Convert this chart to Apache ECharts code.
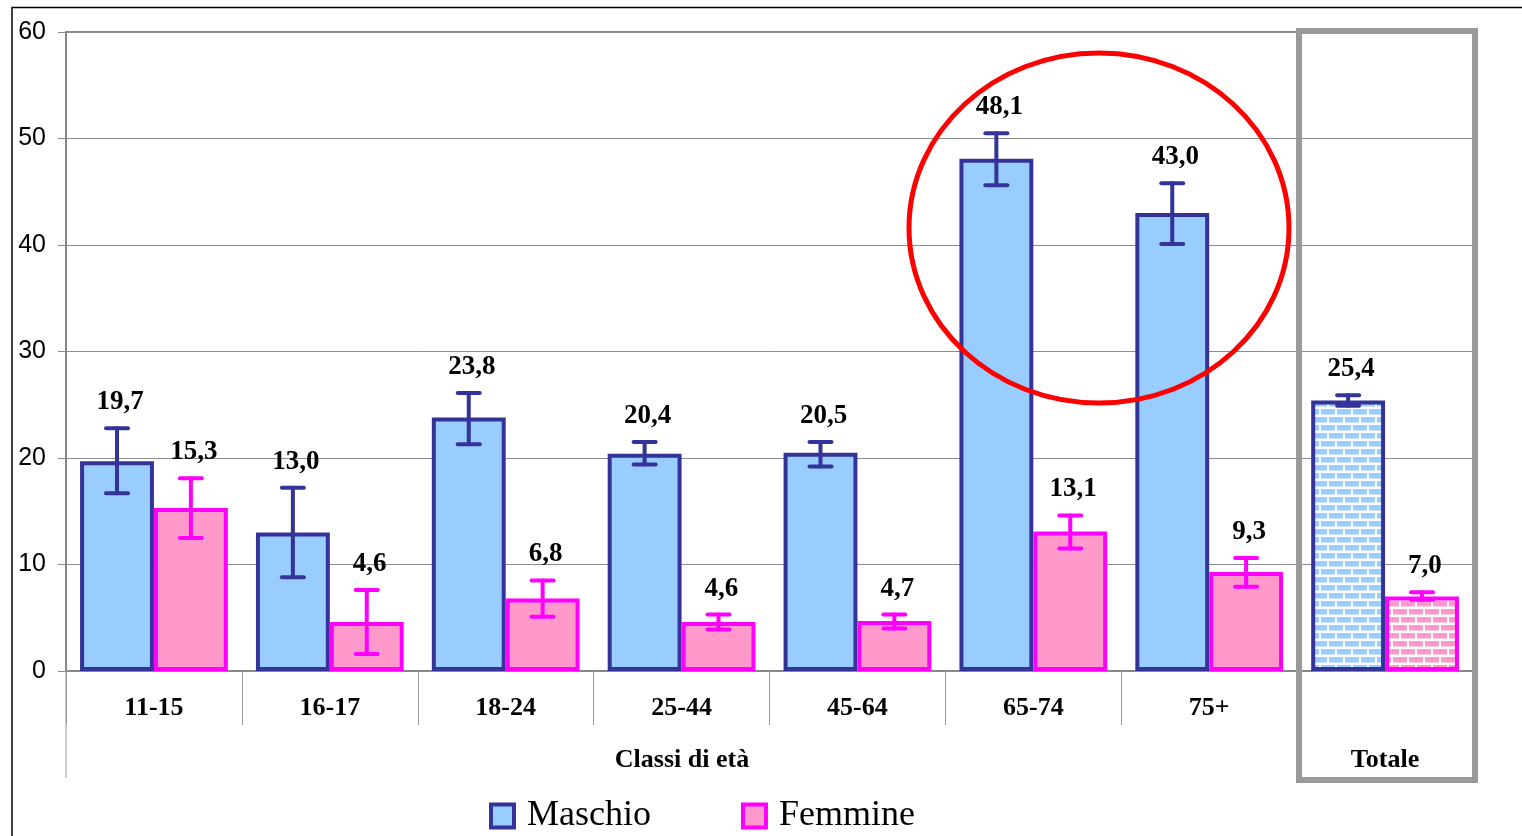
<!DOCTYPE html>
<html>
<head>
<meta charset="utf-8">
<script src="https://cdn.jsdelivr.net/npm/echarts@6/dist/echarts.min.js"></script>
<style>
html,body{margin:0;padding:0;background:#fff;}
#c{width:1522px;height:836px;}
</style>
</head>
<body>
<div id="c"></div>
<script>
// ---- data ----
const categories = ['11-15','16-17','18-24','25-44','45-64','65-74','75+','Totale'];
const maschio     = [19.7, 13.0, 23.8, 20.4, 20.5, 48.1, 43.0, 25.4];
const maschioLow  = [16.7,  8.8, 21.3, 19.4, 19.2, 45.6, 40.1, 24.9];
const maschioHigh = [22.8, 17.2, 26.1, 21.5, 21.5, 50.5, 45.8, 25.9];
const femmine     = [15.3,  4.6,  6.8,  4.6,  4.7, 13.1,  9.3,  7.0];
const femmineLow  = [12.5,  1.6,  5.1,  3.9,  4.0, 11.5,  7.9,  6.7];
const femmineHigh = [18.1,  7.6,  8.5,  5.3,  5.3, 14.6, 10.6,  7.4];
const yTicks = [0, 10, 20, 30, 40, 50, 60];
const groupLabel = 'Classi di età';
const seriesNames = ['Maschio', 'Femmine'];

// ---- brick pattern ----
function brick(col){
  const c = document.createElement('canvas');
  c.width = 16; c.height = 16;
  const g = c.getContext('2d');
  g.fillStyle = '#ffffff'; g.fillRect(0,0,16,16);
  g.fillStyle = col;
  g.fillRect(1,1,14,5.5);
  g.fillRect(-7,9,14,5.5);
  g.fillRect(9,9,14,5.5);
  return {image: c, repeat: 'repeat'};
}
const blueFill = '#99CCFF', pinkFill = '#FF99CC';
const blueLine = '#333399', pinkLine = '#FF00FF';
const serifFont = '"Liberation Serif","Times New Roman",serif';
const last = categories.length - 1;
const catGap = 0.16;

function fmt(v){ return v.toFixed(1).replace('.', ','); }

function errSeries(name, vals, lo, hi, color, sign){
  return {
    name: name + ' err',
    type: 'custom',
    z: 10,
    silent: true,
    data: categories.map((c,i)=>[i, lo[i], hi[i], vals[i]]),
    encode: {x: 0, y: [1,2]},
    renderItem: function(params, api){
      const i = api.value(0);
      const pLo = api.coord([i, api.value(1)]);
      const pHi = api.coord([i, api.value(2)]);
      const band = api.size([1,0])[0];
      const bw = band * (1 - catGap) / 2;
      const x = pLo[0] + sign * bw / 2;
      const cap = 11;
      const ls = {stroke: color, lineWidth: 4, lineCap: 'round'};
      return {
        type: 'group',
        children: [
          {type:'line', shape:{x1:x, y1:pLo[1], x2:x, y2:pHi[1]}, style: ls},
          {type:'line', shape:{x1:x-cap, y1:pHi[1], x2:x+cap, y2:pHi[1]}, style: ls},
          {type:'line', shape:{x1:x-cap, y1:pLo[1], x2:x+cap, y2:pLo[1]}, style: ls},
          {type:'text', style:{text: fmt(api.value(3)), x: x + 3, y: pHi[1] - 26,
             align:'center', verticalAlign:'middle',
             font: 'bold 27px ' + serifFont, fill:'#000'}}
        ]
      };
    }
  };
}

const chart = echarts.init(document.getElementById('c'), null, {renderer:'canvas'});
chart.setOption({
  animation: false,
  backgroundColor: '#fff',
  grid: {left: 66, right: 49, top: 32, bottom: 165, show: true, borderColor: '#888', borderWidth: 2, containLabel: false},
  legend: {
    data: seriesNames,
    left: 489, top: 798,
    padding: 0,
    icon: 'rect',
    itemWidth: 23, itemHeight: 23,
    itemGap: 90,
    itemStyle: {borderWidth: 4},
    textStyle: {fontFamily: serifFont, fontSize: 36, color: '#000', padding: [0,0,0,8]}
  },
  xAxis: {
    type: 'category',
    data: categories,
    axisLine: {show: true, lineStyle: {color: '#888', width: 2}},
    axisTick: {show: true, interval: 0, length: 54, lineStyle: {color: '#999', width: 1}},
    axisLabel: {
      interval: 0, margin: 24, color: '#000',
      fontFamily: serifFont, fontWeight: 'bold', fontSize: 26,
      formatter: function(v){ return v === categories[last] ? '{t|' + v + '}' : v; },
      rich: {t: {padding: [52,0,0,0], fontFamily: serifFont, fontWeight: 'bold', fontSize: 26, color: '#000'}}
    },
    splitLine: {show: false}
  },
  yAxis: {
    type: 'value',
    min: yTicks[0], max: yTicks[yTicks.length-1], interval: 10,
    axisLine: {show: true, lineStyle: {color: '#888', width: 2}},
    axisTick: {show: true, length: 8, lineStyle: {color: '#888'}},
    axisLabel: {margin: 20, color: '#000', fontFamily: '"Liberation Sans",Arial,sans-serif', fontSize: 25},
    splitLine: {show: true, lineStyle: {color: '#8c8c8c', width: 1}}
  },
  series: [
    {
      name: seriesNames[0], type: 'bar', barGap: '0%', barCategoryGap: (catGap*100) + '%',
      itemStyle: {color: blueFill, borderColor: blueLine, borderWidth: 4},
      data: maschio.map((v,i)=> i === last ? {value: v, itemStyle: {color: brick(blueFill)}} : v)
    },
    {
      name: seriesNames[1], type: 'bar', barGap: '0%', barCategoryGap: (catGap*100) + '%',
      itemStyle: {color: pinkFill, borderColor: pinkLine, borderWidth: 4},
      data: femmine.map((v,i)=> i === last ? {value: v, itemStyle: {color: brick(pinkFill)}} : v)
    },
    errSeries(seriesNames[0], maschio, maschioLow, maschioHigh, blueLine, -1),
    errSeries(seriesNames[1], femmine, femmineLow, femmineHigh, pinkLine, 1)
  ],
  graphic: [
    {type:'polyline', shape:{points:[[12,836],[12,7.5],[1522,7.5]]}, style:{stroke:'#000', lineWidth:1.5, fill:null}, z: 50, silent: true},
    {type:'line', shape:{x1:66, y1:671, x2:66, y2:778}, style:{stroke:'#999', lineWidth:1}, z: 50, silent: true},
    {type:'text', x: 682, y: 760, style:{text: groupLabel, align:'center', verticalAlign:'middle', font:'bold 26px ' + serifFont, fill:'#000'}, z: 50},
    {type:'rect', shape:{x:1299, y:31, width:176, height:749}, style:{fill:null, stroke:'#999', lineWidth:6}, z: 60, silent: true},
    {type:'ellipse', shape:{cx:1099, cy:228, rx:190, ry:175}, style:{fill:null, stroke:'#ff0000', lineWidth:5}, z: 70, silent: true}
  ]
});
</script>
</body>
</html>
